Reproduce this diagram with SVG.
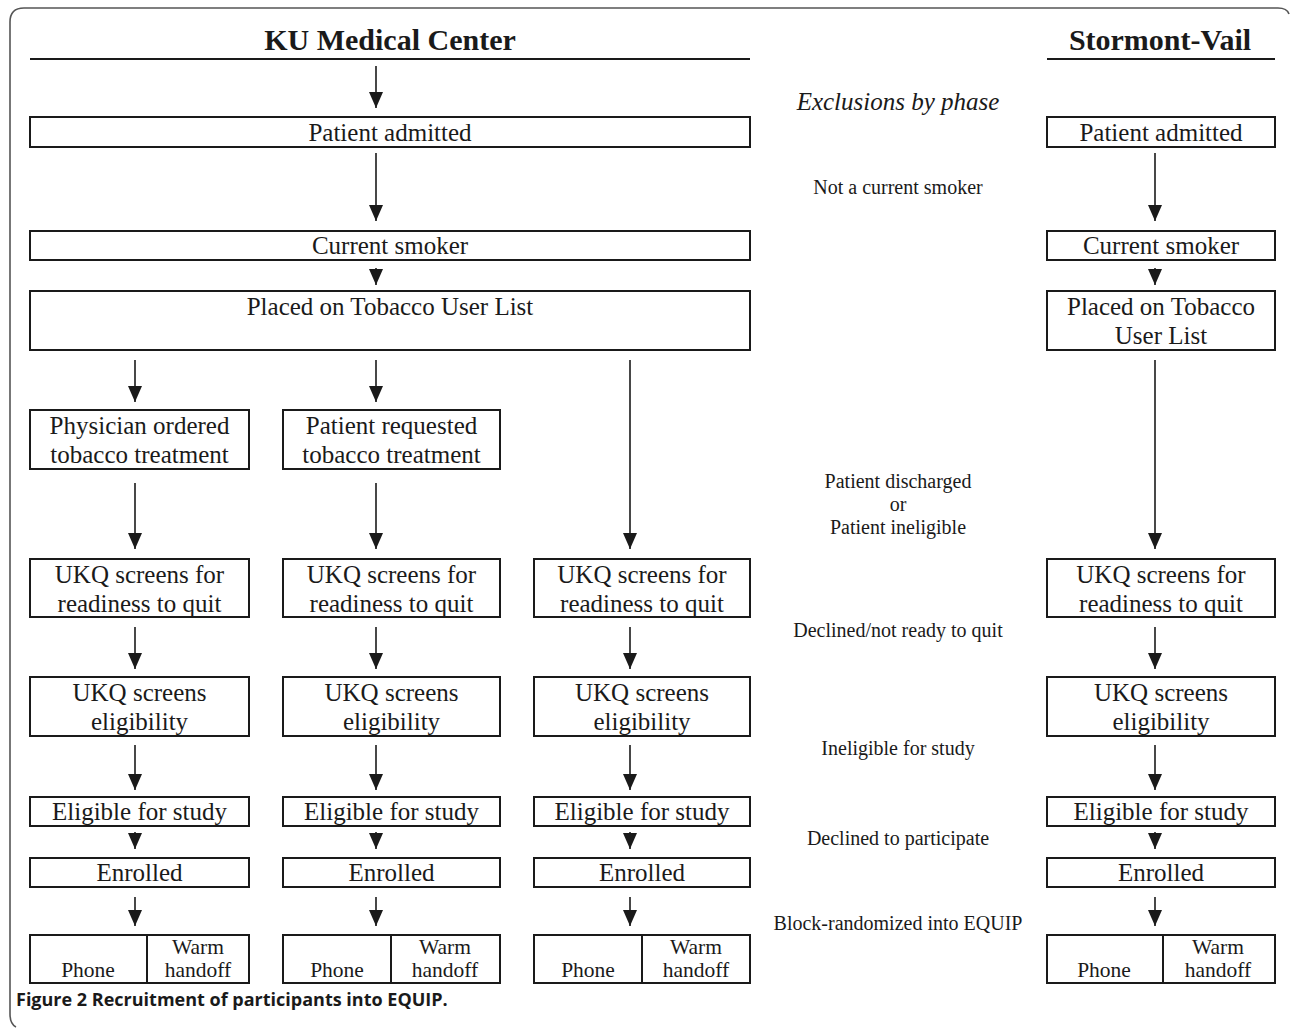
<svg xmlns="http://www.w3.org/2000/svg" width="1290" height="1028" viewBox="0 0 1290 1028">
<style>
.box{fill:#fff;stroke:#1a1a1a;stroke-width:2}
.t{font-family:"Liberation Serif","Times New Roman",serif;font-size:25px;fill:#1a1a1a;text-anchor:middle}
.s{font-family:"Liberation Serif","Times New Roman",serif;font-size:20px;fill:#1a1a1a;text-anchor:middle}
.h{font-family:"Liberation Serif","Times New Roman",serif;font-size:30px;font-weight:bold;fill:#1a1a1a;text-anchor:middle}
.p{font-family:"Liberation Serif","Times New Roman",serif;font-size:21.5px;fill:#1a1a1a;text-anchor:middle}
.ln{stroke:#1a1a1a;stroke-width:1.6;fill:none}
.hd{fill:#1a1a1a}
</style>
<defs>
<marker id="ah" markerUnits="userSpaceOnUse" markerWidth="16" markerHeight="14" refX="16" refY="7" orient="auto" viewBox="0 0 16 14">
<path d="M0,0 L16,7 L0,14 Z" class="hd"/>
</marker>
</defs>
<rect width="1290" height="1028" fill="#fff"/>
<path d="M16,1027 Q10,1024 10,1014 L10,22 Q10,8 24,8 L1278,8 Q1287,8 1289,14" fill="none" stroke="#555" stroke-width="1.6"/>

<g id="headers">
<text class="h" x="390" y="50">KU Medical Center</text>
<line x1="30" y1="59" x2="750" y2="59" stroke="#1a1a1a" stroke-width="2"/>
<text class="h" x="1160" y="50">Stormont-Vail</text>
<line x1="1047" y1="59" x2="1275" y2="59" stroke="#1a1a1a" stroke-width="2"/>
</g>

<g id="exclusions">
<text x="898" y="110" style="font-family:'Liberation Serif','Times New Roman',serif;font-size:25px;font-style:italic;fill:#1a1a1a;text-anchor:middle">Exclusions by phase</text>
<text class="s" x="898" y="194">Not a current smoker</text>
<text class="s" x="898" y="488">Patient discharged</text>
<text class="s" x="898" y="511">or</text>
<text class="s" x="898" y="534">Patient ineligible</text>
<text class="s" x="898" y="637">Declined/not ready to quit</text>
<text class="s" x="898" y="755">Ineligible for study</text>
<text class="s" x="898" y="845">Declined to participate</text>
<text class="s" x="898" y="930">Block-randomized into EQUIP</text>
</g>

<g id="connectors">
<line class="ln" x1="376" y1="66" x2="376" y2="108" marker-end="url(#ah)"/>
<line class="ln" x1="376" y1="153" x2="376" y2="221" marker-end="url(#ah)"/>
<line class="ln" x1="376" y1="268" x2="376" y2="285" marker-end="url(#ah)"/>
<line class="ln" x1="1155" y1="153" x2="1155" y2="221" marker-end="url(#ah)"/>
<line class="ln" x1="1155" y1="268" x2="1155" y2="285" marker-end="url(#ah)"/>
<line class="ln" x1="135" y1="360" x2="135" y2="402" marker-end="url(#ah)"/>
<line class="ln" x1="376" y1="360" x2="376" y2="402" marker-end="url(#ah)"/>
<line class="ln" x1="630" y1="360" x2="630" y2="549" marker-end="url(#ah)"/>
<line class="ln" x1="1155" y1="360" x2="1155" y2="549" marker-end="url(#ah)"/>
<line class="ln" x1="135" y1="483" x2="135" y2="549" marker-end="url(#ah)"/>
<line class="ln" x1="376" y1="483" x2="376" y2="549" marker-end="url(#ah)"/>
<line class="ln" x1="135" y1="627" x2="135" y2="669" marker-end="url(#ah)"/>
<line class="ln" x1="376" y1="627" x2="376" y2="669" marker-end="url(#ah)"/>
<line class="ln" x1="630" y1="627" x2="630" y2="669" marker-end="url(#ah)"/>
<line class="ln" x1="1155" y1="627" x2="1155" y2="669" marker-end="url(#ah)"/>
<line class="ln" x1="135" y1="745" x2="135" y2="790" marker-end="url(#ah)"/>
<line class="ln" x1="376" y1="745" x2="376" y2="790" marker-end="url(#ah)"/>
<line class="ln" x1="630" y1="745" x2="630" y2="790" marker-end="url(#ah)"/>
<line class="ln" x1="1155" y1="745" x2="1155" y2="790" marker-end="url(#ah)"/>
<line class="ln" x1="135" y1="832" x2="135" y2="849" marker-end="url(#ah)"/>
<line class="ln" x1="376" y1="832" x2="376" y2="849" marker-end="url(#ah)"/>
<line class="ln" x1="630" y1="832" x2="630" y2="849" marker-end="url(#ah)"/>
<line class="ln" x1="1155" y1="832" x2="1155" y2="849" marker-end="url(#ah)"/>
<line class="ln" x1="135" y1="897" x2="135" y2="926" marker-end="url(#ah)"/>
<line class="ln" x1="376" y1="897" x2="376" y2="926" marker-end="url(#ah)"/>
<line class="ln" x1="630" y1="897" x2="630" y2="926" marker-end="url(#ah)"/>
<line class="ln" x1="1155" y1="897" x2="1155" y2="926" marker-end="url(#ah)"/>
</g>

<g id="ku-admitted"><rect class="box" x="30" y="117" width="720" height="30"/><text class="t" x="390" y="141">Patient admitted</text></g>
<g id="sv-admitted"><rect class="box" x="1047" y="117" width="228" height="30"/><text class="t" x="1161" y="141">Patient admitted</text></g>
<g id="ku-smoker"><rect class="box" x="30" y="231" width="720" height="29"/><text class="t" x="390" y="254">Current smoker</text></g>
<g id="sv-smoker"><rect class="box" x="1047" y="231" width="228" height="29"/><text class="t" x="1161" y="254">Current smoker</text></g>
<g id="ku-list"><rect class="box" x="30" y="291" width="720" height="59"/><text class="t" x="390" y="315">Placed on Tobacco User List</text></g>
<g id="sv-list"><rect class="box" x="1047" y="291" width="228" height="59"/><text class="t" x="1161" y="315">Placed on Tobacco</text><text class="t" x="1161" y="344">User List</text></g>

<g id="physician"><rect class="box" x="30" y="410" width="219" height="59"/><text class="t" x="139.5" y="434">Physician ordered</text><text class="t" x="139.5" y="463">tobacco treatment</text></g>
<g id="patient-req"><rect class="box" x="283" y="410" width="217" height="59"/><text class="t" x="391.5" y="434">Patient requested</text><text class="t" x="391.5" y="463">tobacco treatment</text></g>

<g id="ready-1"><rect class="box" x="30" y="559" width="219" height="58"/><text class="t" x="139.5" y="583">UKQ screens for</text><text class="t" x="139.5" y="612">readiness to quit</text></g>
<g id="ready-2"><rect class="box" x="283" y="559" width="217" height="58"/><text class="t" x="391.5" y="583">UKQ screens for</text><text class="t" x="391.5" y="612">readiness to quit</text></g>
<g id="ready-3"><rect class="box" x="534" y="559" width="216" height="58"/><text class="t" x="642" y="583">UKQ screens for</text><text class="t" x="642" y="612">readiness to quit</text></g>
<g id="ready-sv"><rect class="box" x="1047" y="559" width="228" height="58"/><text class="t" x="1161" y="583">UKQ screens for</text><text class="t" x="1161" y="612">readiness to quit</text></g>

<g id="elig-1"><rect class="box" x="30" y="677" width="219" height="59"/><text class="t" x="139.5" y="701">UKQ screens</text><text class="t" x="139.5" y="730">eligibility</text></g>
<g id="elig-2"><rect class="box" x="283" y="677" width="217" height="59"/><text class="t" x="391.5" y="701">UKQ screens</text><text class="t" x="391.5" y="730">eligibility</text></g>
<g id="elig-3"><rect class="box" x="534" y="677" width="216" height="59"/><text class="t" x="642" y="701">UKQ screens</text><text class="t" x="642" y="730">eligibility</text></g>
<g id="elig-sv"><rect class="box" x="1047" y="677" width="228" height="59"/><text class="t" x="1161" y="701">UKQ screens</text><text class="t" x="1161" y="730">eligibility</text></g>

<g id="eligible-1"><rect class="box" x="30" y="797" width="219" height="29"/><text class="t" x="139.5" y="820">Eligible for study</text></g>
<g id="eligible-2"><rect class="box" x="283" y="797" width="217" height="29"/><text class="t" x="391.5" y="820">Eligible for study</text></g>
<g id="eligible-3"><rect class="box" x="534" y="797" width="216" height="29"/><text class="t" x="642" y="820">Eligible for study</text></g>
<g id="eligible-sv"><rect class="box" x="1047" y="797" width="228" height="29"/><text class="t" x="1161" y="820">Eligible for study</text></g>

<g id="enrolled-1"><rect class="box" x="30" y="858" width="219" height="29"/><text class="t" x="139.5" y="881">Enrolled</text></g>
<g id="enrolled-2"><rect class="box" x="283" y="858" width="217" height="29"/><text class="t" x="391.5" y="881">Enrolled</text></g>
<g id="enrolled-3"><rect class="box" x="534" y="858" width="216" height="29"/><text class="t" x="642" y="881">Enrolled</text></g>
<g id="enrolled-sv"><rect class="box" x="1047" y="858" width="228" height="29"/><text class="t" x="1161" y="881">Enrolled</text></g>

<g id="arms-1"><rect class="box" x="30" y="935" width="219" height="48"/><line x1="147" y1="935" x2="147" y2="983" stroke="#1a1a1a" stroke-width="2"/><text class="p" x="88" y="977">Phone</text><text class="p" x="198" y="954">Warm</text><text class="p" x="198" y="977">handoff</text></g>
<g id="arms-2"><rect class="box" x="283" y="935" width="217" height="48"/><line x1="391" y1="935" x2="391" y2="983" stroke="#1a1a1a" stroke-width="2"/><text class="p" x="337" y="977">Phone</text><text class="p" x="445" y="954">Warm</text><text class="p" x="445" y="977">handoff</text></g>
<g id="arms-3"><rect class="box" x="534" y="935" width="216" height="48"/><line x1="642" y1="935" x2="642" y2="983" stroke="#1a1a1a" stroke-width="2"/><text class="p" x="588" y="977">Phone</text><text class="p" x="696" y="954">Warm</text><text class="p" x="696" y="977">handoff</text></g>
<g id="arms-sv"><rect class="box" x="1047" y="935" width="228" height="48"/><line x1="1163" y1="935" x2="1163" y2="983" stroke="#1a1a1a" stroke-width="2"/><text class="p" x="1104" y="977">Phone</text><text class="p" x="1218" y="954">Warm</text><text class="p" x="1218" y="977">handoff</text></g>

<text x="16" y="1006" style="font-family:'Open Sans','Liberation Sans',sans-serif;font-size:18px;font-weight:bold;fill:#1a1a1a">Figure 2 Recruitment of participants into EQUIP.</text>
</svg>
